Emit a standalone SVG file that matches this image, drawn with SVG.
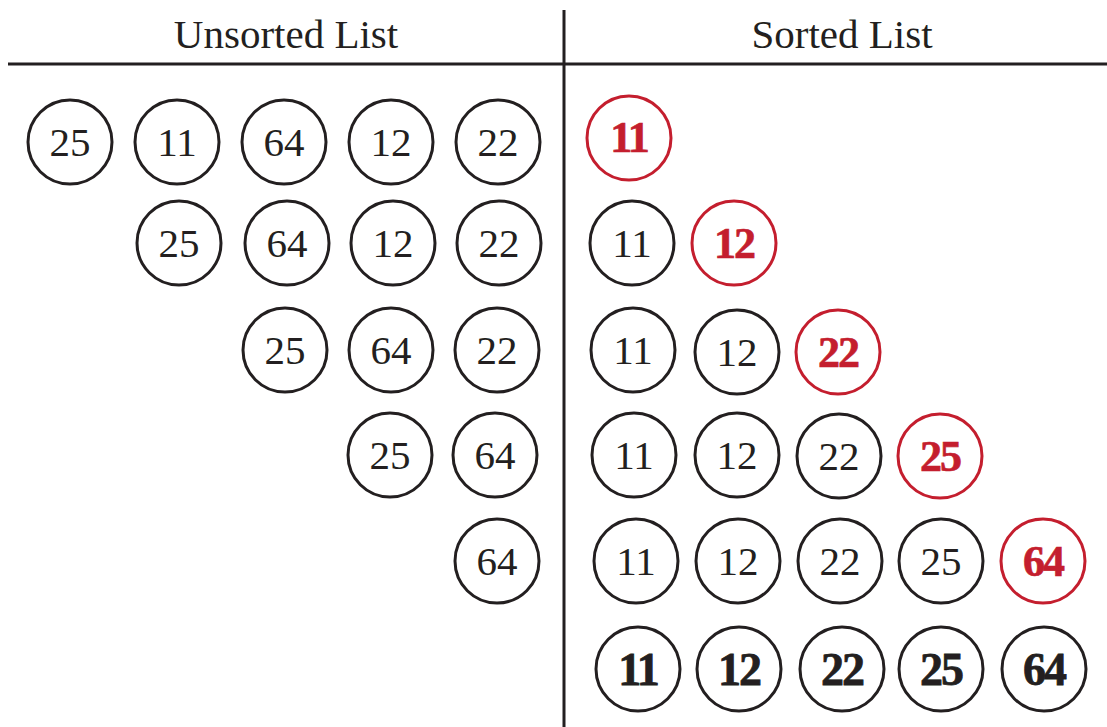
<svg xmlns="http://www.w3.org/2000/svg" width="1107" height="727" viewBox="0 0 1107 727">
<style>
.c{fill:#fff;stroke:#231f20;stroke-width:3}
.r{fill:#fff;stroke:#c41e2e;stroke-width:3}
.t{font-family:"Liberation Serif","Times New Roman",serif;font-size:41px;fill:#231f20;text-anchor:middle}
.tr{font-family:"Liberation Serif","Times New Roman",serif;font-size:44px;font-weight:bold;fill:#c41e2e;stroke:#c41e2e;stroke-width:0.7;text-anchor:middle;letter-spacing:-2px}
.tb{font-family:"Liberation Serif","Times New Roman",serif;font-size:46px;font-weight:bold;fill:#231f20;stroke:#231f20;stroke-width:0.8;text-anchor:middle;letter-spacing:-2px}
.h{font-family:"Liberation Serif","Times New Roman",serif;font-size:41px;fill:#231f20;text-anchor:middle}
.ln{stroke:#231f20;stroke-width:3;fill:none}
</style>
<g id="connectors">
<line class="ln" x1="8" y1="64" x2="1107" y2="64"/>
<line class="ln" x1="564" y1="10" x2="564" y2="727"/>
</g>
<g id="headers">
<text class="h" x="286" y="48">Unsorted List</text>
<text class="h" x="842" y="48">Sorted List</text>
</g>
<g id="unsorted">
<g id="u1"><circle class="c" cx="70" cy="142" r="42"/><text class="t" x="70" y="156">25</text>
<circle class="c" cx="177" cy="142" r="42"/><text class="t" x="177" y="156">11</text>
<circle class="c" cx="284" cy="142" r="42"/><text class="t" x="284" y="156">64</text>
<circle class="c" cx="391" cy="142" r="42"/><text class="t" x="391" y="156">12</text>
<circle class="c" cx="498" cy="142" r="42"/><text class="t" x="498" y="156">22</text></g>
<g id="u2"><circle class="c" cx="179" cy="243" r="42"/><text class="t" x="179" y="257">25</text>
<circle class="c" cx="287" cy="243" r="42"/><text class="t" x="287" y="257">64</text>
<circle class="c" cx="393" cy="243" r="42"/><text class="t" x="393" y="257">12</text>
<circle class="c" cx="499" cy="243" r="42"/><text class="t" x="499" y="257">22</text></g>
<g id="u3"><circle class="c" cx="285" cy="350" r="42"/><text class="t" x="285" y="364">25</text>
<circle class="c" cx="391" cy="350" r="42"/><text class="t" x="391" y="364">64</text>
<circle class="c" cx="497" cy="350" r="42"/><text class="t" x="497" y="364">22</text></g>
<g id="u4"><circle class="c" cx="390" cy="455" r="42"/><text class="t" x="390" y="469">25</text>
<circle class="c" cx="495" cy="455" r="42"/><text class="t" x="495" y="469">64</text></g>
<g id="u5"><circle class="c" cx="497" cy="561" r="42"/><text class="t" x="497" y="575">64</text></g>
</g>
<g id="sorted">
<g id="s1"><circle class="r" cx="629" cy="138" r="42"/><text class="tr" x="629" y="152">11</text></g>
<g id="s2"><circle class="c" cx="632" cy="243" r="42"/><text class="t" x="632" y="257">11</text>
<circle class="r" cx="734" cy="243" r="42"/><text class="tr" x="734" y="258">12</text></g>
<g id="s3"><circle class="c" cx="633" cy="350" r="42"/><text class="t" x="633" y="364">11</text>
<circle class="c" cx="737" cy="352" r="42"/><text class="t" x="737" y="366">12</text>
<circle class="r" cx="838" cy="352" r="42"/><text class="tr" x="838" y="367">22</text></g>
<g id="s4"><circle class="c" cx="634" cy="455" r="42"/><text class="t" x="634" y="469">11</text>
<circle class="c" cx="737" cy="455" r="42"/><text class="t" x="737" y="469">12</text>
<circle class="c" cx="839" cy="456" r="42"/><text class="t" x="839" y="470">22</text>
<circle class="r" cx="940" cy="456" r="42"/><text class="tr" x="940" y="471">25</text></g>
<g id="s5"><circle class="c" cx="636" cy="561" r="42"/><text class="t" x="636" y="575">11</text>
<circle class="c" cx="738" cy="561" r="42"/><text class="t" x="738" y="575">12</text>
<circle class="c" cx="840" cy="561" r="42"/><text class="t" x="840" y="575">22</text>
<circle class="c" cx="941" cy="561" r="42"/><text class="t" x="941" y="575">25</text>
<circle class="r" cx="1043" cy="561" r="42"/><text class="tr" x="1043" y="576">64</text></g>
<g id="s6"><circle class="c" cx="638" cy="669" r="42"/><text class="tb" x="638" y="685">11</text>
<circle class="c" cx="739" cy="669" r="42"/><text class="tb" x="739" y="685">12</text>
<circle class="c" cx="842" cy="669" r="42"/><text class="tb" x="842" y="685">22</text>
<circle class="c" cx="941" cy="669" r="42"/><text class="tb" x="941" y="685">25</text>
<circle class="c" cx="1044" cy="669" r="42"/><text class="tb" x="1044" y="685">64</text></g>
</g>
</svg>
